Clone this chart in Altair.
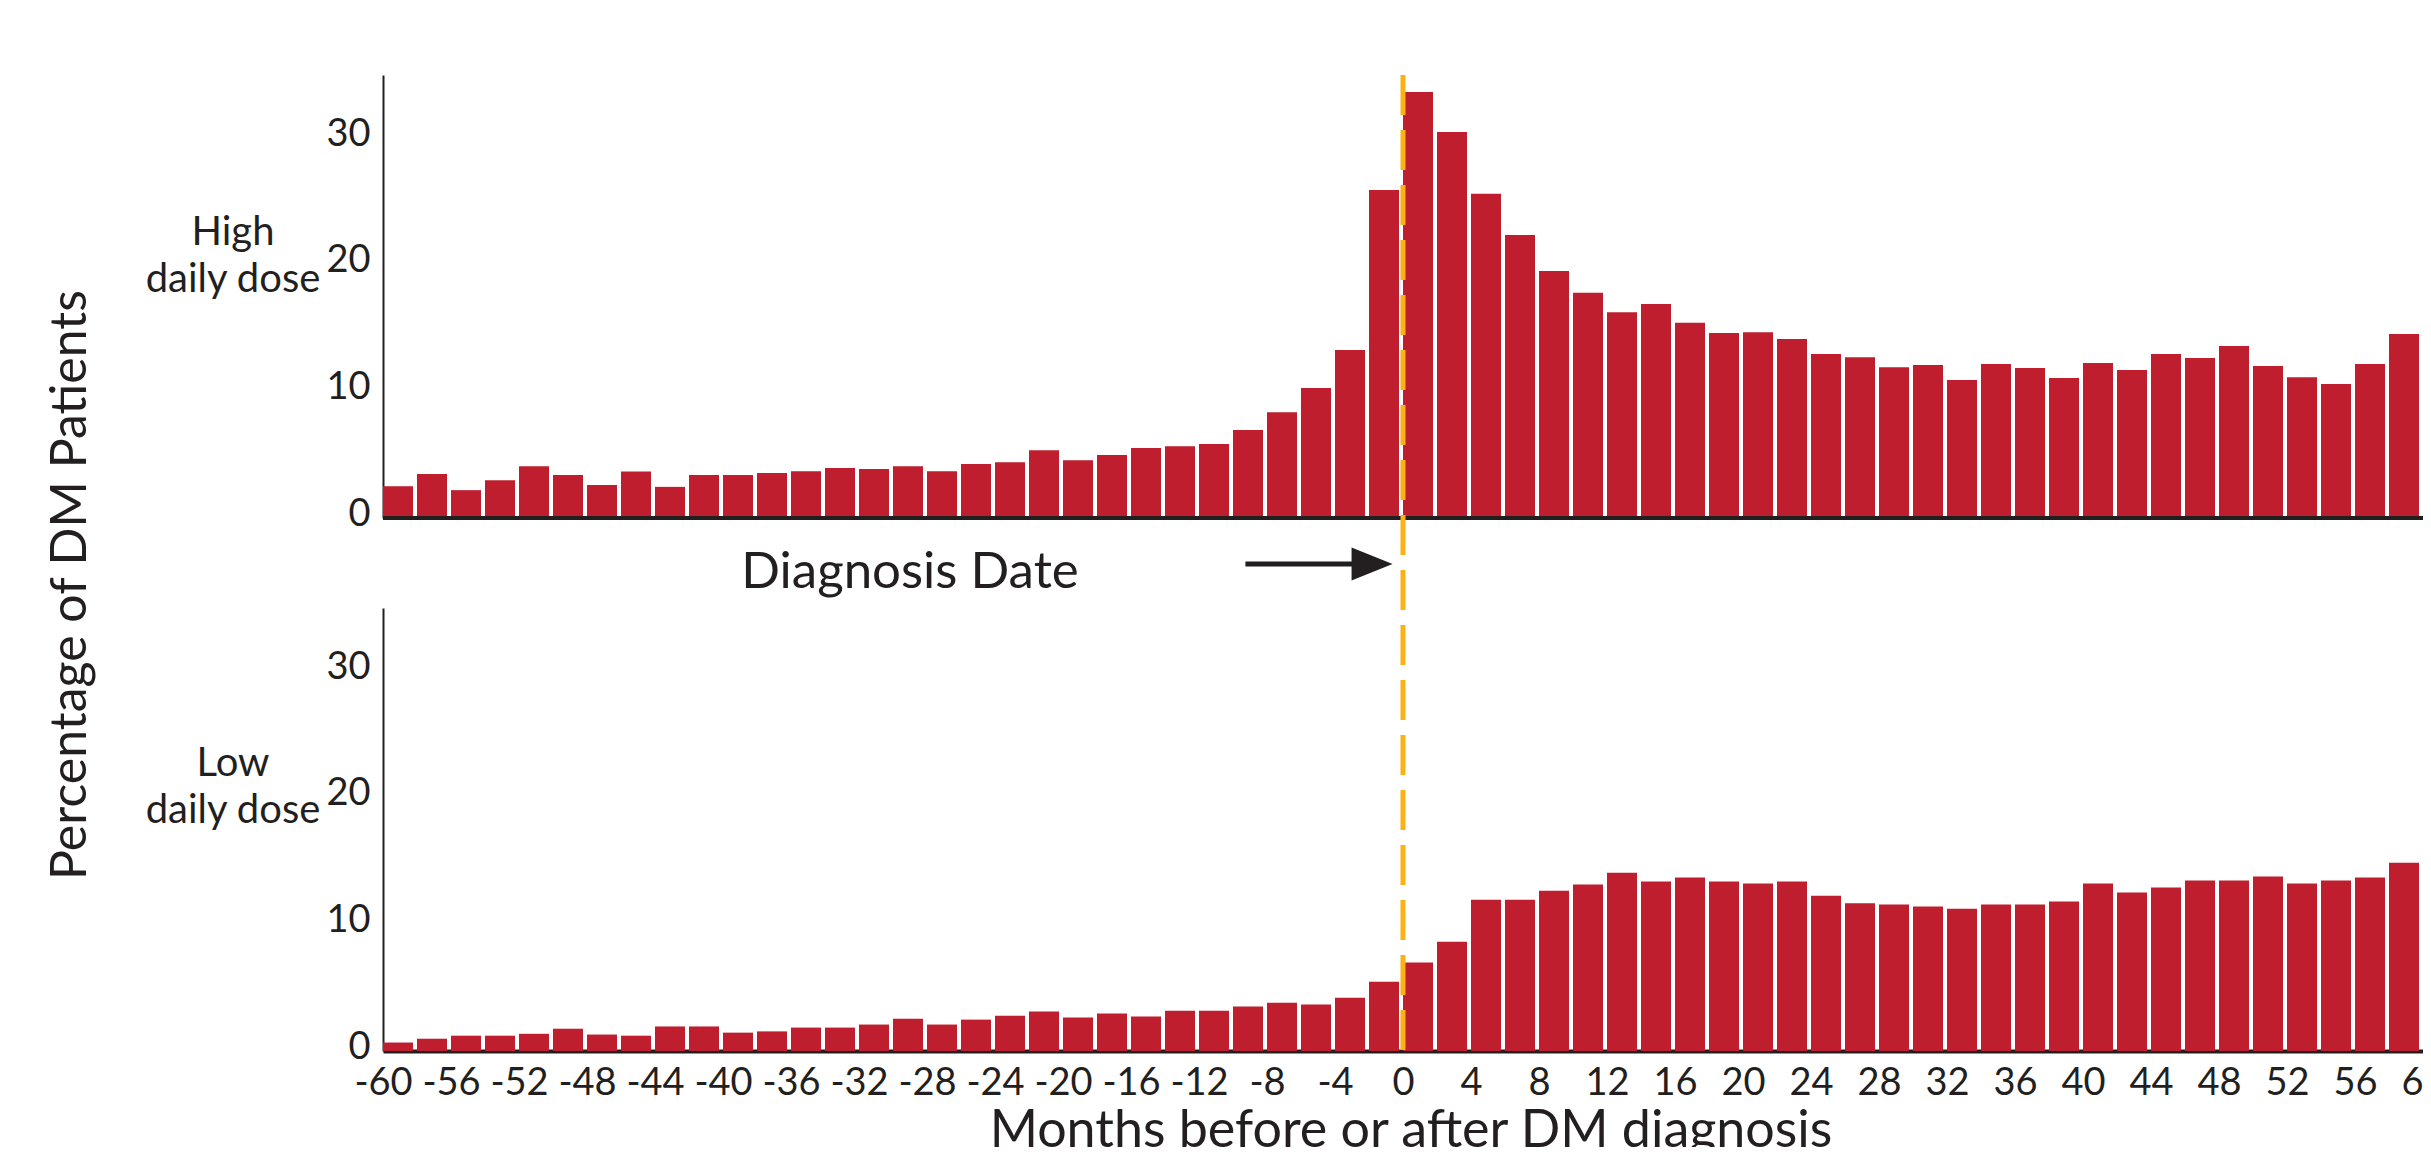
import altair as alt
import pandas as pd

# ---- data ----
months = list(range(-60, 60, 2))          # start month of each 2-month bin
high_dose = [2.51, 3.47, 2.20, 2.99, 4.09, 3.39, 2.60, 3.67, 2.46, 3.39,
             3.39, 3.56, 3.70, 3.95, 3.87, 4.09, 3.70, 4.26, 4.40, 5.36,
             4.57, 4.97, 5.53, 5.67, 5.84, 6.95, 8.36, 10.28, 13.27, 25.92,
             33.65, 30.49, 25.61, 22.36, 19.51, 17.79, 16.26, 16.91, 15.42, 14.62,
             14.68, 14.14, 12.96, 12.70, 11.91, 12.08, 10.90, 12.17, 11.86, 11.07,
             12.25, 11.69, 12.96, 12.65, 13.58, 12.00, 11.12, 10.59, 12.17, 14.54]
low_dose = [0.67, 0.97, 1.21, 1.21, 1.36, 1.76, 1.30, 1.21, 1.94, 1.94,
            1.45, 1.55, 1.85, 1.85, 2.09, 2.55, 2.09, 2.48, 2.79, 3.12,
            2.64, 2.97, 2.73, 3.18, 3.18, 3.52, 3.82, 3.67, 4.21, 5.48,
            7.00, 8.64, 11.94, 11.94, 12.67, 13.15, 14.09, 13.39, 13.70, 13.39,
            13.24, 13.39, 12.27, 11.67, 11.58, 11.42, 11.24, 11.58, 11.58, 11.82,
            13.24, 12.52, 12.91, 13.48, 13.48, 13.79, 13.24, 13.48, 13.70, 14.88]
x_ticks = list(range(-60, 61, 4))
y_ticks = [0, 10, 20, 30]
high_label = ["High", "daily dose"]
low_label = ["Low", "daily dose"]
y_title = "Percentage of DM Patients"
x_title = "Months before or after DM diagnosis"
marker_label = "Diagnosis Date"
diagnosis_month = 0
arrow_from, arrow_to, arrow_tip = -9.27, -2.55, -1.82

df = pd.DataFrame({
    "start": months,
    "end": [m + 2 for m in months],
    "high": high_dose,
    "low": low_dose,
})
one = pd.DataFrame({"k": [0]})

# ---- style ----
W, H = 2040, 976
TOP_RANGE = [443, 0]
BOT_RANGE = [976, 533]
FONT = "Lato"
INK = "#231F20"
RED = "#BE1E2D"
ORANGE = "#FBB217"
TICK_FS = 38

x_scale = alt.Scale(domain=[-60, 60], nice=False, zero=False)
x_axis = alt.Axis(values=x_ticks, labelExpr="'' + datum.value", title=None,
                  ticks=False, tickSize=0, labelPadding=13, labelFontSize=TICK_FS,
                  labelFont=FONT, labelColor=INK, domainColor=INK, domainWidth=4,
                  grid=False, labelOverlap=False, labelFlush=False)


def y_axis():
    return alt.Axis(orient="left", values=y_ticks, title=None, ticks=False,
                    tickSize=0, labelPadding=13, labelFontSize=TICK_FS, labelFont=FONT,
                    labelColor=INK, domainColor=INK, domainWidth=2, grid=False,
                    labelOffset=-4, labelFlush=False)


base = alt.Chart(df)

top_bars = base.mark_bar(color=RED, x2Offset=-4).encode(
    x=alt.X("start:Q", scale=x_scale, axis=x_axis),
    x2="end:Q",
    y=alt.Y("high:Q", scale=alt.Scale(domain=[0, 35], range=TOP_RANGE, nice=False),
            axis=y_axis()),
    y2=alt.Y2Datum(0),
)
top_base = alt.Chart(one).mark_rule(color=INK, strokeWidth=4).encode(
    x=alt.XDatum(-60),
    x2=alt.X2Datum(60),
    y=alt.YDatum(0),
)
top_group = alt.layer(top_bars, top_base)

bot_bars = base.mark_bar(color=RED, x2Offset=-4).encode(
    x=alt.X("start:Q", scale=x_scale, axis=x_axis),
    x2="end:Q",
    y=alt.Y("low:Q", scale=alt.Scale(domain=[0, 35], range=BOT_RANGE, nice=False),
            axis=y_axis()),
    y2=alt.Y2Datum(0),
)

dash = alt.Chart(one).mark_rule(color=ORANGE, strokeWidth=5, strokeDash=[40, 15]).encode(
    x=alt.XDatum(diagnosis_month),
    y=alt.value(0),
    y2=alt.value(H),
)

shaft = alt.Chart(one).mark_rule(color=INK, strokeWidth=5).encode(
    x=alt.XDatum(arrow_from),
    x2=alt.X2Datum(arrow_to),
    y=alt.value(489),
)
head = alt.Chart(one).mark_point(shape="M-1,-0.8L1,0L-1,0.8Z", size=1681, filled=True,
                                 color=INK, opacity=1, strokeWidth=0).encode(
    x=alt.XDatum(arrow_tip),
    y=alt.value(489),
)


def label(text, x, y, size, align="center", baseline="alphabetic", angle=0, lh=47):
    kw = dict(text=text, font=FONT, fontSize=size, color=INK, align=align,
              baseline=baseline, lineHeight=lh)
    if angle:
        kw["angle"] = angle
    return alt.Chart(one).mark_text(**kw).encode(x=alt.value(x), y=alt.value(y))


t_high = label(high_label, -150, 170, 40)
t_low = label(low_label, -150, 701, 40)
t_y = label(y_title, -312, 510, 50, baseline="middle", angle=270)
t_diag = label(marker_label, 527, 513, 51)
t_x = label(x_title, 1028, 1072, 52)

chart = alt.layer(
    top_group, bot_bars, dash, shaft, head, t_high, t_low, t_y, t_diag, t_x
).resolve_scale(y="independent").properties(
    width=W, height=H,
    autosize=alt.AutoSizeParams(type="none"),
    padding={"left": 375, "top": 67, "right": 0, "bottom": 96},
).configure_view(stroke=None)

chart.save("out.html", embed_options={"renderer": "svg", "actions": False})
